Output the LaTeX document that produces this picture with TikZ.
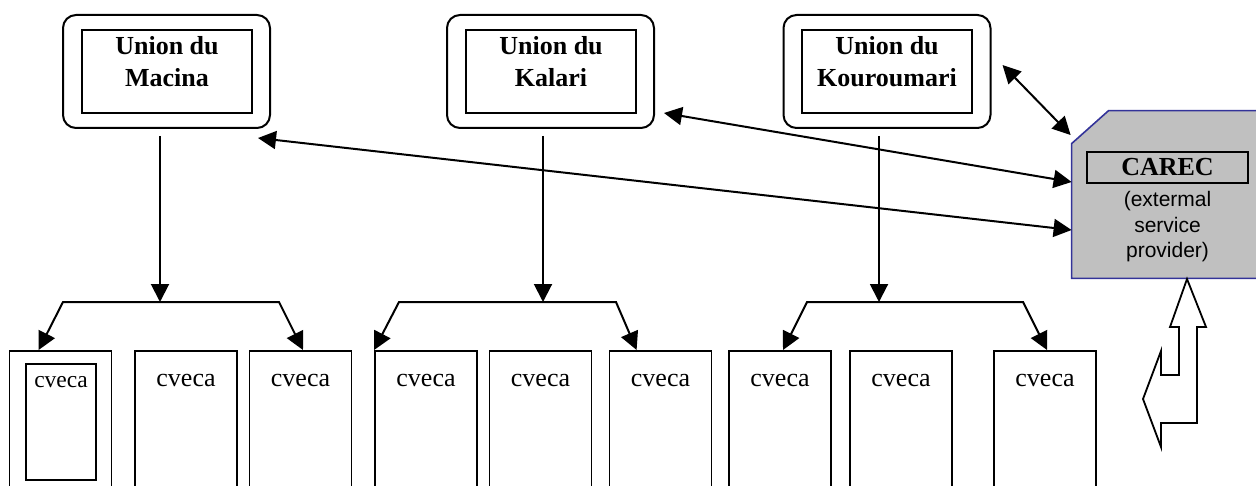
\documentclass[tikz,border=0pt]{standalone}
\usepackage{fontspec}
\setmainfont{Liberation Serif}
\newfontfamily\arialfont{Liberation Sans}
\usetikzlibrary{arrows.meta}
\definecolor{carecgray}{RGB}{192,192,192}
\definecolor{carecblue}{RGB}{51,51,153}
\tikzset{
  union/.style={draw, line width=1pt, rounded corners=6.5pt, minimum width=103.5pt, minimum height=56.5pt},
  unionin/.style={draw, line width=1.3pt, minimum width=85pt, minimum height=41.5pt},
  utext/.style={align=center, inner sep=0pt, anchor=north, font=\fontsize{13}{16}\selectfont\bfseries},
  cveca/.style={draw, line width=0.9pt, minimum width=51pt, inner sep=0pt, text height=18pt, text depth=67pt, anchor=north, font=\fontsize{13}{16}\selectfont},
  cvecain/.style={draw, line width=1.2pt, minimum width=35pt, inner sep=0pt, text height=11.5pt, text depth=46.5pt, anchor=north, font=\fontsize{11.75}{14}\selectfont},
  link/.style={line width=1pt, -{Triangle[length=9pt,width=9pt]}},
  twoway/.style={line width=1pt, {Triangle[length=9pt,width=9pt]}-{Triangle[length=9pt,width=9pt]}},
}
\begin{document}
\begin{tikzpicture}[x=0.5pt,y=-0.5pt]
      \useasboundingbox (0,0) rectangle (1256,486);
      \clip (0,0) rectangle (1256,486);
      % unions
      \node[union] (mac) at (166.5,71.5) {};
      \node[unionin] (macin) at (167,71.5) {};
      \node[utext] (mact) at ([yshift=-3.6pt]macin.north) {Union du\\Macina};
      \node[union] (kal) at (550.5,71.5) {};
      \node[unionin] (kalin) at (551,71.5) {};
      \node[utext] (kalt) at ([yshift=-3.6pt]kalin.north) {Union du\\Kalari};
      \node[union] (kou) at (887,71.5) {};
      \node[unionin] (kouin) at (887,71.5) {};
      \node[utext] (kout) at ([yshift=-3.6pt]kouin.north) {Union du\\Kouroumari};
      % cveca
      \node[cveca] (c1) at (60.5,350) {};
      \node[cvecain] (c1in) at (61,363) {cveca};
      \node[cveca] (c2) at (186,350) {cveca};
      \node[cveca] (c3) at (300.5,350) {cveca};
      \node[cveca] (c4) at (426,350) {cveca};
      \node[cveca] (c5) at (540.5,350) {cveca};
      \node[cveca] (c6) at (660.5,350) {cveca};
      \node[cveca] (c7) at (780,350) {cveca};
      \node[cveca] (c8) at (901,350) {cveca};
      \node[cveca] (c9) at (1045,350) {cveca};
      % CAREC
      \node[inner sep=0pt, minimum width=114pt, minimum height=83.5pt] (carec) at (1186,194.5) {};
      \draw[fill=carecgray, draw=carecblue, line width=0.8pt] (carec.south west) -- ([yshift=-16.5pt]carec.north west)
        -- ([xshift=18.5pt]carec.north west) -- (carec.north east) -- (carec.south east) -- cycle;
      \node[draw, line width=1.2pt, minimum width=80.5pt, minimum height=15.5pt, inner sep=0pt,
        font=\fontsize{13}{16}\selectfont\bfseries] (carecname) at (1167.5,167.5) {CAREC};
      \node[align=center, inner sep=0pt, anchor=north, font=\arialfont\fontsize{10.5}{12.75}\selectfont]
        (carect) at ([yshift=-3.5pt]carecname.south) {(extermal\\service\\provider)};
      \draw[line width=0.9pt, fill=white] (1187,279) -- (1206,327) -- (1197,327) -- (1197,423) -- (1161,423)
        -- (1161,447) -- (1143,399) -- (1161,351) -- (1161,375) -- (1179,375) -- (1179,327) -- (1170,327) -- cycle;
      % links
      \coordinate (macj) at (160,302);
      \coordinate (macl) at (63,302);
      \coordinate (macr) at (279,302);
      \coordinate (kalj) at (543,302);
      \coordinate (kall) at (399,302);
      \coordinate (kalr) at (616,302);
      \coordinate (kouj) at (879,302);
      \coordinate (koul) at (807,302);
      \coordinate (kour) at (1023,302);
      \draw[link] ([xshift=-3.25pt,yshift=-3.5pt]mac.south) -- (macj);
      \draw[link] ([xshift=-3.75pt,yshift=-3.5pt]kal.south) -- (kalj);
      \draw[link] ([xshift=-4pt,yshift=-3.5pt]kou.south) -- (kouj);
      \draw[twoway] ([xshift=15pt]c1.north west) -- (macl) -- (macr) -- ([xshift=1.25pt]c3.north);
      \draw[twoway] (c4.north west) -- (kall) -- (kalr) -- ([xshift=14pt]c6.north west);
      \draw[twoway] ([xshift=1.5pt]c7.north) -- (koul) -- (kour) -- ([xshift=1pt]c9.north);
      \draw[twoway] ([xshift=-6.5pt,yshift=-4.5pt]mac.south east) -- ([yshift=-17.75pt]carec.west);
      \draw[twoway] ([xshift=4.5pt,yshift=-20.75pt]kal.east) -- ([yshift=6.25pt]carec.west);
      \draw[twoway] ([xshift=5.5pt,yshift=3.25pt]kou.east) -- ([xshift=-0.5pt,yshift=29.75pt]carec.west);
    \end{tikzpicture}
\end{document}
